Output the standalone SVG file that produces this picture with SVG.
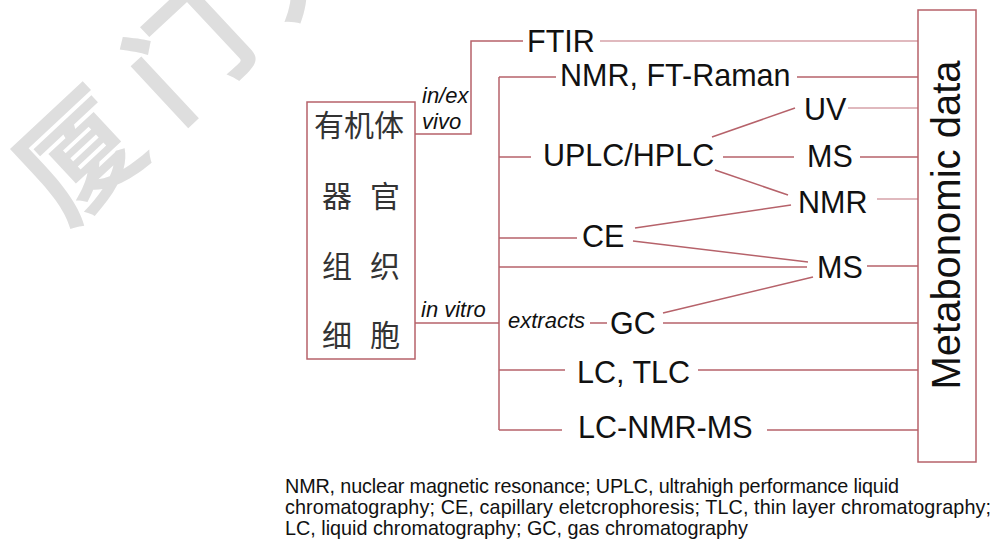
<svg xmlns="http://www.w3.org/2000/svg" width="997" height="542" viewBox="0 0 997 542">
<style>
.t{font-family:"Liberation Sans",Arial,sans-serif;font-size:30.5px;fill:#111}
.i{font-family:"Liberation Sans",Arial,sans-serif;font-size:22px;font-style:italic;fill:#111}
.c{font-family:"Noto Sans CJK SC",sans-serif;font-size:30px;fill:#333}
.cap{font-family:"Liberation Sans",Arial,sans-serif;font-size:19.8px;fill:#111}
.box{fill:none;stroke:#b6626a;stroke-width:1.5}
.ln{fill:none;stroke:#b6626a;stroke-width:1.5}
.lt{fill:none;stroke:#d6a2a8;stroke-width:1.5}
.wm{font-family:"Noto Sans CJK SC",sans-serif;font-size:118px;font-weight:bold;fill:#dedede}
</style>
<rect width="997" height="542" fill="#fff"/>
<g id="watermark"><text class="wm" transform="translate(66,228) rotate(-43)" x="0" y="0" letter-spacing="30">厦门大学</text></g>
<g id="connectors">
<polyline class="ln" points="415,134 471,134 471,41 523,41"/>
<line class="lt" x1="600" y1="41" x2="918" y2="41"/>
<line class="ln" x1="499" y1="77" x2="499" y2="430"/>
<line class="ln" x1="415" y1="323" x2="499" y2="323"/>
<line class="ln" x1="499" y1="77" x2="556" y2="77"/>
<line class="ln" x1="797" y1="77" x2="918" y2="77"/>
<line class="ln" x1="499" y1="157" x2="531" y2="157"/>
<line class="ln" x1="723" y1="157" x2="794" y2="157"/>
<line class="ln" x1="860" y1="157" x2="918" y2="157"/>
<line class="ln" x1="712" y1="137" x2="795" y2="108"/>
<line class="lt" x1="848" y1="108" x2="918" y2="108"/>
<line class="ln" x1="715" y1="170" x2="788" y2="195"/>
<line class="lt" x1="877" y1="199" x2="918" y2="199"/>
<line class="ln" x1="499" y1="238" x2="577" y2="238"/>
<line class="ln" x1="635" y1="228" x2="791" y2="205"/>
<line class="ln" x1="633" y1="241" x2="808" y2="262"/>
<line class="ln" x1="499" y1="267" x2="807" y2="267"/>
<line class="ln" x1="867" y1="266" x2="918" y2="266"/>
<line class="ln" x1="663" y1="313" x2="813" y2="277"/>
<line class="ln" x1="663" y1="323" x2="918" y2="323"/>
<line class="ln" x1="590" y1="323" x2="607" y2="323"/>
<line class="ln" x1="499" y1="370" x2="565" y2="370"/>
<line class="ln" x1="698" y1="370" x2="918" y2="370"/>
<line class="ln" x1="499" y1="430" x2="562" y2="430"/>
<line class="ln" x1="767" y1="430" x2="918" y2="430"/>
</g>
<g id="organism">
<rect class="box" x="307" y="102" width="108" height="257"/>
<text class="c" x="314" y="136">有机体</text>
<text class="c" x="322" y="207">器</text><text class="c" x="370" y="207">官</text>
<text class="c" x="322" y="277">组</text><text class="c" x="370" y="277">织</text>
<text class="c" x="322" y="346">细</text><text class="c" x="370" y="346">胞</text>
</g>
<g id="metabonomic">
<rect class="box" x="918" y="10" width="58" height="452"/>
<text class="t" style="font-size:40px" text-anchor="middle" transform="translate(960,225) rotate(-90)">Metabonomic data</text>
</g>
<g id="labels">
<text class="i" x="422" y="103">in/ex</text>
<text class="i" x="422" y="129">vivo</text>
<text class="i" x="421" y="317">in vitro</text>
<text class="i" x="508" y="328">extracts</text>
</g>
<g id="n-ftir"><text class="t" x="527" y="52">FTIR</text></g>
<g id="n-nmr-raman"><text class="t" x="560" y="86">NMR, FT-Raman</text></g>
<g id="n-uplc"><text class="t" x="543" y="166">UPLC/HPLC</text></g>
<g id="n-uv"><text class="t" x="804" y="120">UV</text></g>
<g id="n-ms1"><text class="t" x="807" y="167">MS</text></g>
<g id="n-nmr"><text class="t" x="798" y="213">NMR</text></g>
<g id="n-ce"><text class="t" x="582" y="247">CE</text></g>
<g id="n-ms2"><text class="t" x="817" y="278">MS</text></g>
<g id="n-gc"><text class="t" x="610" y="334">GC</text></g>
<g id="n-lctlc"><text class="t" x="577" y="383">LC, TLC</text></g>
<g id="n-lcnmrms"><text class="t" x="578" y="438">LC-NMR-MS</text></g>
<g id="caption">
<text class="cap" x="285" y="493" textLength="614" lengthAdjust="spacing">NMR, nuclear magnetic resonance; UPLC, ultrahigh performance liquid</text>
<text class="cap" x="285" y="514" textLength="706" lengthAdjust="spacing">chromatography; CE, capillary eletcrophoresis; TLC, thin layer chromatography;</text>
<text class="cap" x="285" y="535">LC, liquid chromatography; GC, gas chromatography</text>
</g>
</svg>
